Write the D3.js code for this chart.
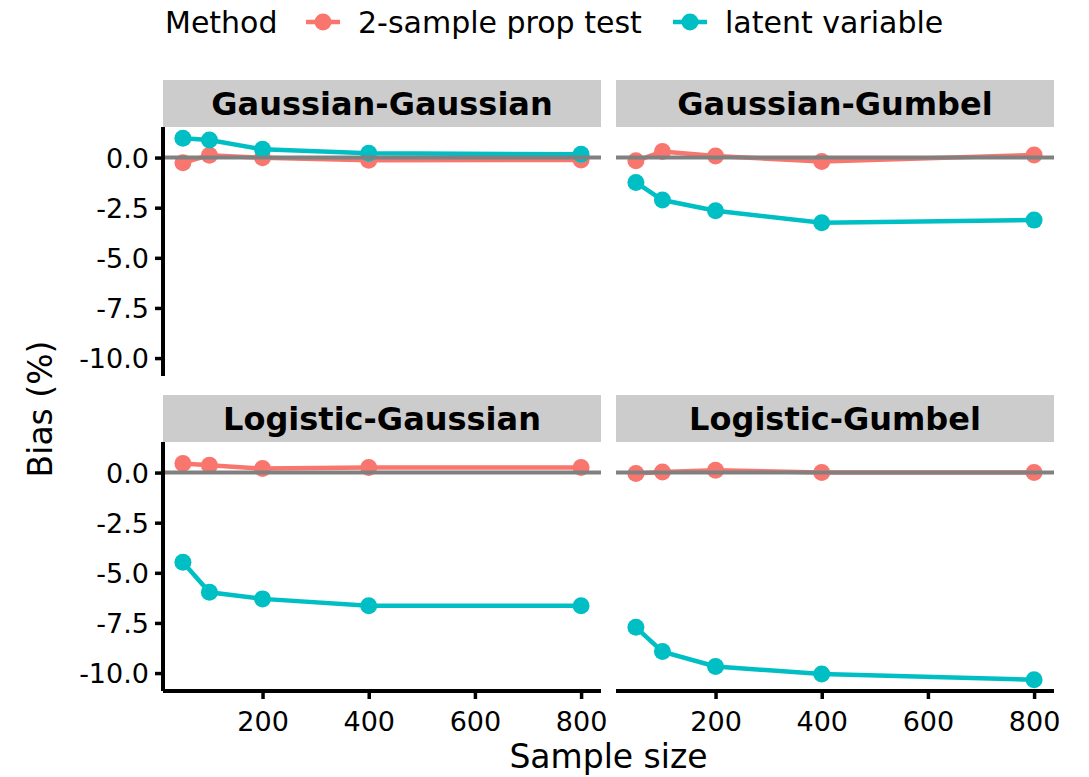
<!DOCTYPE html>
<html>
<head>
<meta charset="utf-8">
<script src="https://cdn.jsdelivr.net/npm/d3@7"></script>
<style>
  body { margin: 0; background: #fff; }
  text { font-family: "DejaVu Sans", sans-serif; fill: #000; }
</style>
</head>
<body>
<div id="chart"></div>
<script>
// data
var sampleSizes = [50, 100, 200, 400, 800]
var panelNames = ["Gaussian-Gaussian", "Gaussian-Gumbel", "Logistic-Gaussian", "Logistic-Gumbel"]
var methods = ["2-sample prop test", "latent variable"]
var methodColors = ["#F8766D", "#00BFC4"]

// bias (%) per panel, in panelNames order
var propTestBias = [
  [-0.26, 0.12, -0.01, -0.13, -0.12],
  [-0.16, 0.30, 0.08, -0.20, 0.13],
  [0.45, 0.37, 0.20, 0.25, 0.25],
  [-0.05, 0.03, 0.12, 0.00, 0.00]
]
var latentBias = [
  [0.96, 0.88, 0.41, 0.21, 0.17],
  [-1.24, -2.12, -2.65, -3.25, -3.12],
  [-4.47, -5.97, -6.30, -6.64, -6.64],
  [-7.72, -8.93, -9.67, -10.05, -10.33]
]

var yTicks = [0, -2.5, -5, -7.5, -10]
var xTicks = [200, 400, 600, 800]

var W = 1089, H = 777
var panelW = 438, panelH = 249
var colX = [163, 616]
var rowY = [127, 442]   // top of each panel (below strip)
var stripH = 47

var svg = d3.select("#chart").append("svg")
    .attr("width", W)
    .attr("height", H)

// ggplot-style 5% expansion on both scales
var allY = d3.merge(propTestBias.concat(latentBias))
var yMin = d3.min(allY), yMax = d3.max(allY)
var yPad = (yMax - yMin) * 0.05
var xPad = (d3.max(sampleSizes) - d3.min(sampleSizes)) * 0.05

var x = d3.scaleLinear()
    .domain([d3.min(sampleSizes) - xPad, d3.max(sampleSizes) + xPad])
    .range([0, panelW])
var y = d3.scaleLinear()
    .domain([yMin - yPad, yMax + yPad])
    .range([panelH, 0])

var line = d3.line()
    .x(function(d) { return x(d.n) })
    .y(function(d) { return y(d.v) })

panelNames.forEach(function(name, i) {
  var col = i % 2, row = Math.floor(i / 2)
  var g = svg.append("g")
      .attr("transform", "translate(" + colX[col] + "," + rowY[row] + ")")

  // strip
  g.append("rect")
      .attr("x", 0).attr("y", -stripH)
      .attr("width", panelW).attr("height", stripH)
      .attr("fill", "#cccccc")
  g.append("text")
      .attr("x", panelW / 2).attr("y", -stripH / 2 + 11)
      .attr("text-anchor", "middle")
      .style("font-weight", "bold")
      .style("font-size", "32px")
      .text(name)

  var series = [propTestBias[i], latentBias[i]]
  series.forEach(function(vals, k) {
    var pts = sampleSizes.map(function(n, j) { return {n: n, v: vals[j]} })
    g.append("path")
        .datum(pts)
        .attr("d", line)
        .attr("fill", "none")
        .attr("stroke", methodColors[k])
        .attr("stroke-width", 4.5)
    g.selectAll(".pt" + k)
        .data(pts)
        .enter()
        .append("circle")
          .attr("cx", function(d) { return x(d.n) })
          .attr("cy", function(d) { return y(d.v) })
          .attr("r", 8.5)
          .attr("fill", methodColors[k])
  })

  // zero reference line on top
  g.append("line")
      .attr("x1", 0).attr("x2", panelW)
      .attr("y1", y(0)).attr("y2", y(0))
      .attr("stroke", "#808080")
      .attr("stroke-width", 4)

  // y axis only on left column
  if (col == 0) {
    var ya = g.append("g")
        .call(d3.axisLeft(y).tickValues(yTicks).tickSize(8).tickPadding(6)
          .tickFormat(d3.format(".1f")))
    ya.select(".domain").attr("stroke-width", 4).attr("d", "M0," + 0 + "V" + panelH)
    ya.selectAll(".tick line").attr("stroke-width", 3.5)
    ya.selectAll(".tick text")
        .style("font-size", "27px")
        .attr("dy", "0.36em")
        .text(function(d) { return d3.format(".1f")(d).replace("−", "-") })
  }
  // x axis only on bottom row
  if (row == 1) {
    var xa = g.append("g")
        .attr("transform", "translate(0," + panelH + ")")
        .call(d3.axisBottom(x).tickValues(xTicks).tickSize(8).tickPadding(6))
    xa.select(".domain").attr("stroke-width", 4).attr("d", "M0,0H" + panelW)
    xa.selectAll(".tick line").attr("stroke-width", 3.5)
    xa.selectAll(".tick text").style("font-size", "27px").attr("dy", "0.95em")
  }
})

// axis titles
svg.append("text")
    .attr("x", (colX[0] + colX[1] + panelW) / 2)
    .attr("y", 768)
    .attr("text-anchor", "middle")
    .style("font-size", "33px")
    .text("Sample size")

svg.append("text")
    .attr("transform", "translate(52," + ((rowY[0] + rowY[1] + panelH) / 2) + ") rotate(-90)")
    .attr("text-anchor", "middle")
    .style("font-size", "33px")
    .text("Bias (%)")

// legend
var legend = svg.append("g")
legend.append("text")
    .attr("x", 165).attr("y", 33)
    .style("font-size", "30px")
    .text("Method")
var keyX = [306, 673]
methods.forEach(function(m, k) {
  var kg = legend.append("g").attr("transform", "translate(" + keyX[k] + ",22)")
  kg.append("line")
      .attr("x1", 0).attr("x2", 34)
      .attr("stroke", methodColors[k]).attr("stroke-width", 4.5)
  kg.append("circle")
      .attr("cx", 17).attr("r", 8.5)
      .attr("fill", methodColors[k])
  kg.append("text")
      .attr("x", 52).attr("y", 11)
      .style("font-size", "30px")
      .text(m)
})
</script>
</body>
</html>
